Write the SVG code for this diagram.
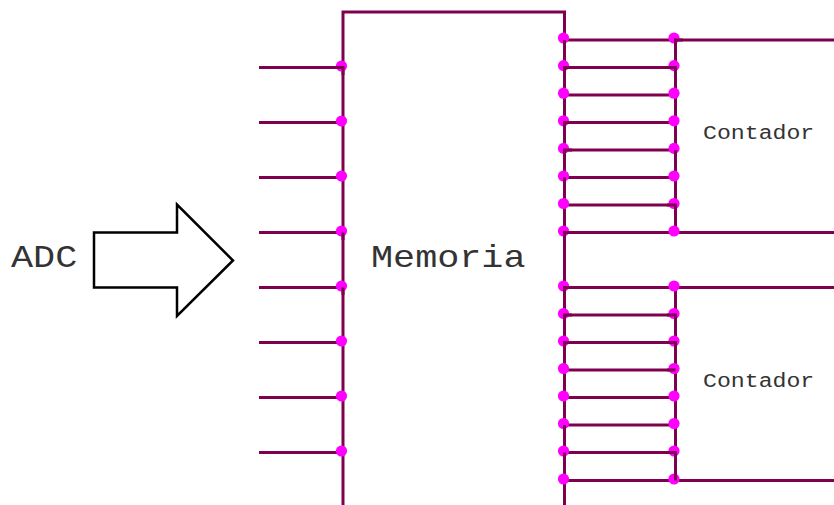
<svg xmlns="http://www.w3.org/2000/svg" width="834" height="505" viewBox="0 0 834 505">
<style>
.w{fill:none;stroke:#800050;stroke-width:3}
.d{fill:#ff00ff}
.a{fill:#fff;stroke:#000;stroke-width:2.5;stroke-linejoin:miter}
text{font-family:"Liberation Mono",monospace;fill:#333}
.b{font-size:32px}
.s{font-size:20px}
</style>
<defs><circle id="dot" class="d" r="5.6"/></defs>
<g id="adc"><text class="b" transform="translate(11 267) scale(1.15 1)">ADC</text></g>
<g id="adc-arrow"><path class="a" d="M94 232.500H177V204.500L233 260.500L177 316V287.500H94Z"/></g>
<g id="memoria-label"><text class="b" transform="translate(371 267) scale(1.15 1)">Memoria</text></g>
<g id="contador-1"><text class="s" transform="translate(703 139) scale(1.16 1)">Contador</text></g>
<g id="contador-2"><text class="s" transform="translate(703 387) scale(1.16 1)">Contador</text></g>
<g id="connectors-base">
<path class="w" d="M343 505V12H564.500V505"/>
<path class="w" d="M259 67.500H343M259 122.500H343M259 177.500H343M259 232.500H343M259 287.500H343M259 342.500H343M259 397.500H343M259 452.500H343"/>
<path class="w" d="M564.500 40H834M564.500 67.500H675.500M564.500 95H675.500M564.500 122.500H675.500M564.500 150H675.500M564.500 177.500H675.500M564.500 205H675.500M564.500 232.500H834"/>
<path class="w" d="M564.500 287.500H834M564.500 315H675.500M564.500 342.500H675.500M564.500 370H675.500M564.500 397.500H675.500M564.500 425H675.500M564.500 452.500H675.500M564.500 480.500H834"/>
<path class="w" d="M675.500 40V232.500M675.500 287.500V480.500"/>
</g>
<g id="dots">
<use href="#dot" x="341.500" y="66"/><use href="#dot" x="341.500" y="121"/><use href="#dot" x="341.500" y="176"/><use href="#dot" x="341.500" y="231"/><use href="#dot" x="341.500" y="286"/><use href="#dot" x="341.500" y="341"/><use href="#dot" x="341.500" y="396"/><use href="#dot" x="341.500" y="451"/>
<use href="#dot" x="563.500" y="38"/><use href="#dot" x="563.500" y="65.600"/><use href="#dot" x="563.500" y="93.200"/><use href="#dot" x="563.500" y="120.800"/><use href="#dot" x="563.500" y="148.400"/><use href="#dot" x="563.500" y="176"/><use href="#dot" x="563.500" y="203.500"/><use href="#dot" x="563.500" y="231"/>
<use href="#dot" x="563.500" y="286"/><use href="#dot" x="563.500" y="313.500"/><use href="#dot" x="563.500" y="341"/><use href="#dot" x="563.500" y="368.500"/><use href="#dot" x="563.500" y="396"/><use href="#dot" x="563.500" y="423.500"/><use href="#dot" x="563.500" y="451"/><use href="#dot" x="563.500" y="479"/>
<use href="#dot" x="674" y="38"/><use href="#dot" x="674" y="65.600"/><use href="#dot" x="674" y="93.200"/><use href="#dot" x="674" y="120.800"/><use href="#dot" x="674" y="148.400"/><use href="#dot" x="674" y="176"/><use href="#dot" x="674" y="203.500"/><use href="#dot" x="674" y="231"/>
<use href="#dot" x="674" y="286"/><use href="#dot" x="674" y="313.500"/><use href="#dot" x="674" y="341"/><use href="#dot" x="674" y="368.500"/><use href="#dot" x="674" y="396"/><use href="#dot" x="674" y="423.500"/><use href="#dot" x="674" y="451"/><use href="#dot" x="674" y="479"/>
</g>
<g id="connectors-over">
<path class="w" d="M335 67.500H343V75M343 232.500V240M343 287.500V295"/>
<path class="w" d="M564.500 40V47M564.500 75V67.500H572M564.500 130V122.500H572M564.500 158V150H572M564.500 177.500V185M564.500 240V232.500H572"/>
<path class="w" d="M675.500 47V40H683M667 67.500H675.500V75M675.500 150V158M667 205H675.500V213"/>
<path class="w" d="M564.500 295V287.500H572M564.500 323V315H572M564.500 350V342.500H572M564.500 432V425M564.500 460V452.500"/>
<path class="w" d="M667 315H675.500V323M667 342.500H675.500V350M667 370H675.500M667 452.500H675.500V480.500"/>
</g>
</svg>
